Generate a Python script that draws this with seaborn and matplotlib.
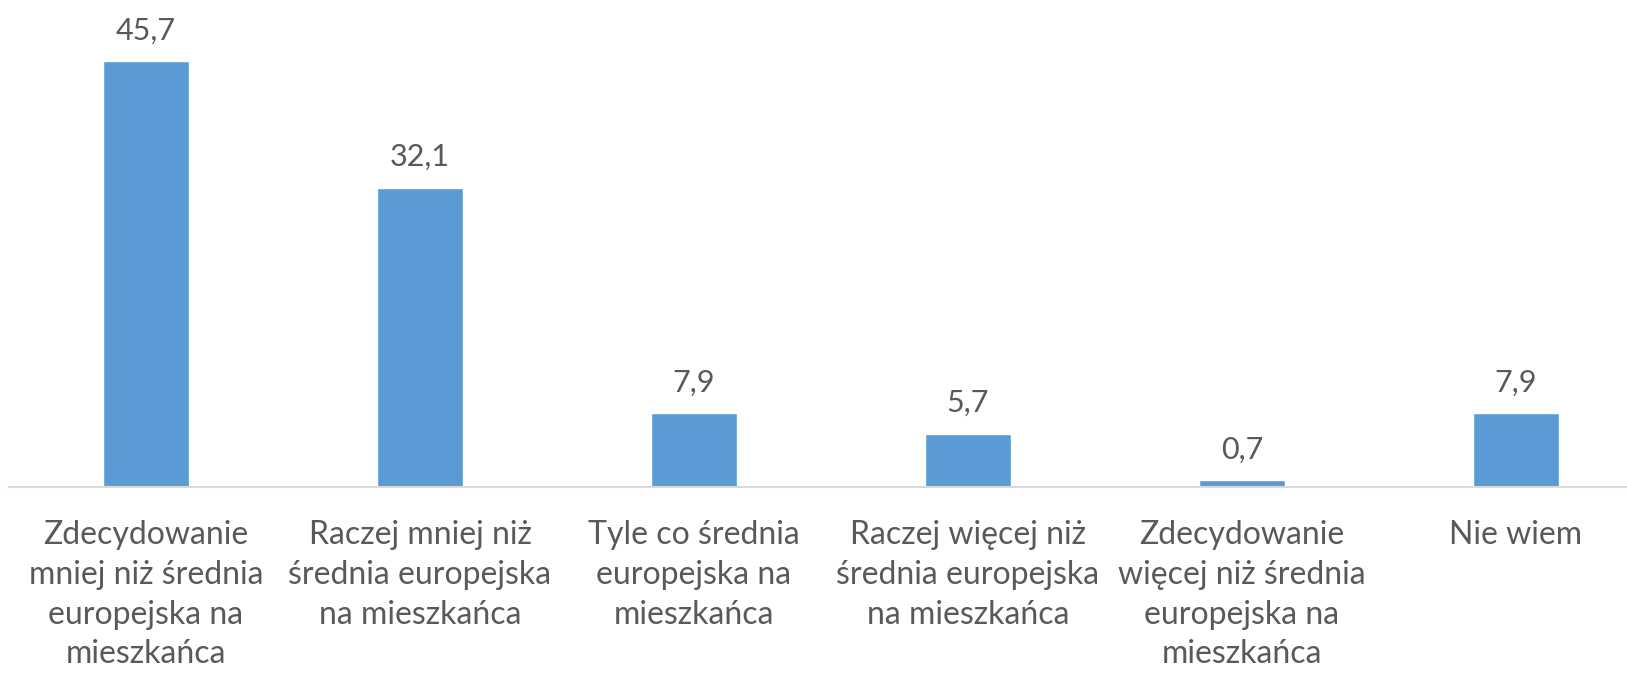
import pandas as pd
import seaborn as sns
import matplotlib.pyplot as plt

categories = [
    "Zdecydowanie\nmniej niż średnia\neuropejska na\nmieszkańca",
    "Raczej mniej niż\nśrednia europejska\nna mieszkańca",
    "Tyle co średnia\neuropejska na\nmieszkańca",
    "Raczej więcej niż\nśrednia europejska\nna mieszkańca",
    "Zdecydowanie\nwięcej niż średnia\neuropejska na\nmieszkańca",
    "Nie wiem",
]
values = [45.7, 32.1, 7.9, 5.7, 0.7, 7.9]
value_labels = ["45,7", "32,1", "7,9", "5,7", "0,7", "7,9"]

df = pd.DataFrame({"kategoria": categories, "procent": values})

sns.set_style("white")
plt.rcParams["font.family"] = ["Lato", "DejaVu Sans"]

fig = plt.figure(figsize=(16.27, 6.74), dpi=100)
ax = fig.add_axes([9 / 1627, 187 / 674, 1644 / 1627, 466 / 674])

sns.barplot(data=df, x="kategoria", y="procent", color="#5B9BD5",
            width=0.315, saturation=1, ax=ax)

for i, (v, lab) in enumerate(zip(values, value_labels)):
    ax.annotate(lab, (i, v), xytext=(0, 12), textcoords="offset points",
                ha="center", va="bottom", fontsize=22, color="#595959")

ax.set_xlim(-0.5, 5.5)
ax.set_ylim(0, 50)
ax.set_xlabel("")
ax.set_ylabel("")
ax.set_yticks([])
ax.tick_params(axis="x", length=0, pad=24, labelsize=23, labelcolor="#595959")
for lab in ax.get_xticklabels():
    lab.set_linespacing(1.4)
    lab.set_verticalalignment("top")

for s in ["top", "left", "right"]:
    ax.spines[s].set_visible(False)
ax.spines["bottom"].set_color("#D9D9D9")
ax.spines["bottom"].set_linewidth(1.5)

fig.savefig("out.png", dpi=100)
